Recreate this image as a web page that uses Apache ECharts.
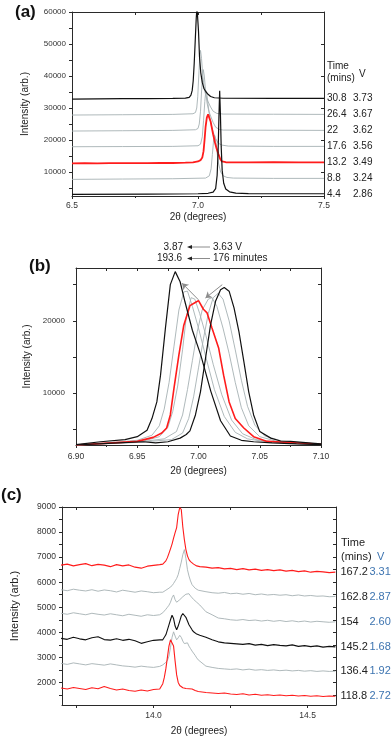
<!DOCTYPE html>
<html>
<head>
<meta charset="utf-8">
<script src="https://cdn.jsdelivr.net/npm/echarts@6/dist/echarts.min.js"></script>
<style>
  html, body { margin: 0; padding: 0; background: #fff; }
  #chart { width: 392px; height: 741px; }
</style>
</head>
<body>
<div id="chart"></div>
<script>
// ---- panel (a): [2theta, intensity] per scan, bottom to top
const aT44  = [[6.5,3000],[6.8,3100],[7.0,3200],[7.04,3350],[7.06,3700],[7.07,4800],[7.076,9000],[7.08,17000],[7.083,27000],[7.086,35400],[7.089,28000],[7.092,18000],[7.096,10500],[7.102,6500],[7.11,4700],[7.125,3800],[7.15,3400],[7.2,3250],[7.5,3200]];
const aT88  = [[6.5,7700],[6.7,7800],[6.9,7900],[7.03,8100],[7.045,8800],[7.052,11000],[7.057,15500],[7.062,20000],[7.066,21500],[7.07,20000],[7.075,16500],[7.082,12500],[7.09,10000],[7.1,8800],[7.115,8300],[7.14,8100],[7.3,8000],[7.5,8000]];
const aT132 = [[6.5,12700],[6.55,12750],[6.6,12700],[6.65,12780],[6.7,12750],[6.75,12800],[6.8,12780],[6.85,12850],[6.9,12820],[6.95,12900],[6.98,13000],[7.0,13300],[7.01,13700],[7.017,14500],[7.022,16500],[7.026,20000],[7.03,24000],[7.035,27000],[7.04,28000],[7.045,27500],[7.05,25800],[7.054,24200],[7.06,21800],[7.067,19300],[7.074,17300],[7.081,15600],[7.088,14100],[7.095,13300],[7.11,13050],[7.2,13000],[7.3,13050],[7.4,13000],[7.5,13000]];
const aT176 = [[6.5,17900],[6.7,17950],[6.9,18000],[7.0,18200],[7.01,18700],[7.017,21000],[7.022,26000],[7.027,32000],[7.031,35500],[7.035,34500],[7.04,31000],[7.046,27500],[7.053,24500],[7.06,22500],[7.07,20500],[7.08,19000],[7.095,18400],[7.12,18100],[7.3,18000],[7.5,18000]];
const aT22  = [[6.5,22800],[6.7,22900],[6.9,23000],[6.99,23200],[7.0,23600],[7.005,25000],[7.01,29000],[7.014,35000],[7.018,40000],[7.021,42000],[7.025,40000],[7.03,35500],[7.036,31500],[7.043,29000],[7.05,27500],[7.06,25500],[7.07,24000],[7.085,23300],[7.1,23100],[7.3,23050],[7.5,23000]];
const aT264 = [[6.5,27800],[6.7,27900],[6.9,28000],[6.98,28200],[6.99,28600],[6.995,30000],[6.999,33500],[7.003,40000],[7.007,46000],[7.010,48000],[7.014,45500],[7.019,40000],[7.025,36000],[7.032,33500],[7.04,32000],[7.05,30300],[7.06,29000],[7.075,28300],[7.1,28100],[7.3,28050],[7.5,28000]];
const aT308 = [[6.5,32800],[6.6,32850],[6.7,32900],[6.8,32950],[6.9,33000],[6.95,33100],[6.965,33300],[6.972,34000],[6.977,35500],[6.981,38500],[6.985,44000],[6.989,51000],[6.993,58000],[6.996,61500],[6.999,61500],[7.002,54000],[7.006,46000],[7.011,41000],[7.017,38000],[7.024,36000],[7.032,35000],[7.041,34200],[7.05,33600],[7.065,33200],[7.1,33050],[7.3,33000],[7.5,33000]];
const aTimes = ['4.4', '8.8', '13.2', '17.6', '22', '26.4', '30.8'];
const aVolts = ['2.86', '3.24', '3.49', '3.56', '3.62', '3.67', '3.73'];

// ---- panel (b)
const bBlackR = [[6.90,2850],[6.93,3100],[6.955,3300],[6.965,3150],[6.975,3300],[6.985,3800],[6.990,4300],[6.993,4800],[6.9975,7000],[7.0016,10200],[7.0057,14800],[7.0098,19400],[7.0139,22700],[7.018,24300],[7.021,24600],[7.025,24100],[7.029,21800],[7.033,18500],[7.037,14400],[7.041,10200],[7.045,7000],[7.050,4700],[7.059,3800],[7.067,3400],[7.075,3350],[7.09,3150],[7.10,3000]];
const bGrayR2 = [[6.90,2850],[6.95,3200],[6.978,3600],[6.987,4500],[6.992,6500],[6.996,9500],[7.000,13500],[7.004,17500],[7.008,21000],[7.012,23200],[7.016,23800],[7.020,23000],[7.025,20000],[7.030,16000],[7.035,11800],[7.040,8200],[7.046,5600],[7.054,4100],[7.068,3400],[7.085,3100],[7.10,2950]];
const bGrayR1 = [[6.90,2850],[6.95,3250],[6.972,3700],[6.982,4700],[6.987,7000],[6.991,10500],[6.995,14500],[6.999,18500],[7.003,21500],[7.008,23000],[7.011,23200],[7.015,22000],[7.020,19000],[7.025,15500],[7.030,11500],[7.035,8000],[7.041,5500],[7.05,4000],[7.065,3300],[7.085,3050],[7.10,2950]];
const bRed    = [[6.90,2850],[6.93,3150],[6.95,3350],[6.963,3900],[6.970,4500],[6.974,5200],[6.977,7000],[6.980,10700],[6.984,15300],[6.988,19400],[6.993,22100],[6.997,22500],[7.000,22800],[7.004,21600],[7.007,21100],[7.011,19000],[7.0165,16200],[7.0205,12500],[7.025,8800],[7.030,6500],[7.037,5200],[7.045,4000],[7.056,3350],[7.075,3200],[7.10,2950]];
const bGrayL2 = [[6.90,2850],[6.93,3100],[6.955,3400],[6.968,4000],[6.975,5300],[6.979,7500],[6.983,11000],[6.987,16000],[6.990,20500],[6.994,23200],[6.997,23000],[7.001,21000],[7.006,18000],[7.012,14000],[7.019,9800],[7.027,6300],[7.036,4400],[7.047,3600],[7.065,3200],[7.085,3000],[7.10,2900]];
const bGrayL1 = [[6.90,2850],[6.93,3200],[6.95,3500],[6.962,4200],[6.968,5500],[6.972,7800],[6.976,11500],[6.980,16500],[6.984,21500],[6.988,24000],[6.991,24100],[6.995,22000],[7.000,19000],[7.006,15000],[7.013,10500],[7.021,6800],[7.03,4600],[7.04,3700],[7.055,3300],[7.075,3100],[7.10,2900]];
const bBlackL = [[6.90,2900],[6.92,3300],[6.94,3600],[6.95,4000],[6.958,4900],[6.962,6500],[6.966,8800],[6.969,12500],[6.973,19000],[6.977,25000],[6.981,26800],[6.985,25400],[6.989,22600],[6.995,18700],[7.002,15200],[7.010,10300],[7.018,6200],[7.026,4100],[7.035,3500],[7.045,3300],[7.06,3150],[7.08,3000],[7.10,2900]];
// arrows inside (b): [from, to]
const bArrows = [[[7.000,22900],[6.9866,25200]], [[7.0194,25000],[7.0057,23150]]];

// ---- panel (c): shared angle grid, one intensity list per scan
const cAngle = [13.70,13.72,13.74,13.76,13.78,13.80,13.82,13.84,13.86,13.88,13.90,13.92,13.94,13.96,13.98,14.00,14.02,
  14.025,14.03,14.035,14.04,14.045,14.05,14.055,14.06,14.065,14.07,14.075,14.08,14.085,14.09,14.095,14.10,14.105,14.11,14.115,14.12,14.125,14.13,14.135,14.14,14.145,14.15,
  14.17,14.19,14.21,14.23,14.25,14.27,14.29,14.31,14.33,14.35,14.37,14.39,14.41,14.43,14.45,14.47,14.49,14.51,14.53,14.55,14.57,14.59];
const c1672 = [6680,6720,6650,6700,6740,6660,6710,6680,6620,6700,6650,6690,6600,6560,6640,6670,6700,
  6680,6720,6760,6850,6980,7150,7330,7520,7760,7980,8180,8700,8980,8900,8200,7700,7300,7050,6900,6820,6760,6720,6680,6650,6640,6620,
  6600,6560,6580,6530,6550,6500,6540,6490,6520,6470,6500,6460,6490,6440,6470,6420,6450,6400,6430,6410,6380,6400];
const c1628 = [5700,5660,5720,5680,5650,5700,5640,5690,5660,5610,5680,5640,5600,5650,5620,5580,5600,
  5620,5600,5640,5680,5720,5760,5800,5860,5950,6050,6150,6300,6550,6800,7100,7300,6950,6500,6250,6050,5900,5830,5760,5700,5680,5640,
  5620,5580,5560,5590,5540,5560,5520,5550,5500,5530,5490,5510,5480,5500,5460,5490,5450,5470,5440,5450,5420,5430];
const c154 = [4760,4720,4780,4740,4700,4760,4720,4690,4740,4700,4660,4720,4680,4640,4700,4670,4700,
  4720,4780,4850,4920,5000,5080,5200,5380,5490,5300,5200,5230,5300,5360,5420,5470,5520,5560,5540,5450,5380,5310,5250,5200,5140,5090,
  4820,4700,4570,4540,4500,4480,4510,4470,4490,4450,4480,4440,4470,4430,4460,4420,4450,4410,4440,4420,4400,4420];
const c1452 = [3760,3720,3800,3740,3700,3780,3820,3710,3690,3740,3680,3720,3660,3560,3620,3680,3700,
  3680,3700,3760,3900,4100,4300,4500,4680,4550,4250,4100,4250,4450,4650,4750,4820,4600,4450,4300,4320,4100,4020,3980,3930,3900,3880,
  3800,3700,3620,3580,3560,3540,3520,3550,3490,3520,3470,3510,3480,3460,3500,3440,3470,3430,3460,3410,3440,3420];
const c1364 = [2760,2720,2780,2740,2700,2750,2720,2690,2740,2700,2660,2640,2610,2650,2620,2600,2640,
  2660,2700,2740,2800,2880,3050,3400,3800,4020,3850,3700,3780,3880,3800,3650,3550,3600,3580,3450,3350,3250,3180,3080,2980,2900,2840,
  2650,2600,2560,2540,2520,2540,2500,2530,2490,2510,2480,2500,2470,2490,2460,2480,2450,2470,2440,2460,2440,2450];
const c1188 = [1780,1740,1800,1760,1720,1790,1750,1840,1760,1700,1740,1680,1650,1700,1660,1720,1740,
  1760,1950,2200,2550,3000,3450,3700,3640,3450,2850,2300,2000,1880,1820,1790,1780,1760,1780,1750,1720,1740,1700,1680,1660,1640,1620,
  1600,1580,1560,1580,1540,1520,1550,1500,1530,1490,1510,1480,1500,1470,1490,1460,1480,1450,1470,1440,1460,1450];
const cTimes = ['118.8', '136.4', '145.2', '154', '162.8', '167.2'];
const cVolts = ['2.72', '1.92', '1.68', '2.60', '2.87', '3.31'];

// tick values
const aYLabels = [10000, 20000, 30000, 40000, 50000, 60000];
const aYTicks = [5000, 10000, 15000, 20000, 25000, 30000, 35000, 40000, 45000, 50000, 55000, 60000];
const bYLabels = [10000, 20000];
const bYTicks = [5000, 10000, 15000, 20000, 25000];
const cYLabels = [2000, 3000, 4000, 5000, 6000, 7000, 8000, 9000];
const cYTicks = [1500, 2000, 2500, 3000, 3500, 4000, 4500, 5000, 5500, 6000, 6500, 7000, 7500, 8000, 8500, 9000];
const cXLabels = [14.0, 14.5];
const cXTicks = [13.75, 14.0, 14.25, 14.5];

const FONT = "'Liberation Sans', Arial, sans-serif";
const BLACK = '#111111';
const GRAY = '#a6b1b3';
const RED = '#ff1c1c';
const BLUE = '#3d74b0';
const AXIS = '#2a2a2a';

const chart = echarts.init(document.getElementById('chart'), null, { renderer: 'canvas' });

const plain = (v) => String(v);

const bottomX = (grid, min, max, extra) => Object.assign({
  gridIndex: grid, type: 'value', position: 'bottom', min, max,
  axisLine: { show: true, onZero: false, lineStyle: { color: AXIS, width: 1 } },
  axisTick: { show: true, length: 3, lineStyle: { color: AXIS } },
  splitLine: { show: false },
  nameLocation: 'middle', nameGap: 20,
  nameTextStyle: { fontFamily: FONT, fontSize: 10, color: '#222' },
  name: '2θ (degrees)',
}, extra);
const topX = (grid, min, max, extra) => Object.assign({
  gridIndex: grid, type: 'value', position: 'top', min, max,
  axisLine: { show: true, onZero: false, lineStyle: { color: AXIS, width: 1 } },
  axisTick: { show: true, inside: true, length: 3, lineStyle: { color: AXIS } },
  axisLabel: { show: false },
  splitLine: { show: false },
}, extra);
const leftY = (grid, min, max, labels, ticks, extra) => Object.assign({
  gridIndex: grid, type: 'value', position: 'left', min, max,
  axisLine: { show: true, onZero: false, lineStyle: { color: AXIS, width: 1 } },
  axisTick: { show: true, length: 3, customValues: ticks, lineStyle: { color: AXIS } },
  axisLabel: { customValues: labels, formatter: plain, fontFamily: FONT, fontSize: 8, color: '#333', margin: 6 },
  splitLine: { show: false },
  name: 'Intensity (arb.)', nameLocation: 'middle', nameGap: 42,
  nameTextStyle: { fontFamily: FONT, fontSize: 10, color: '#222' },
}, extra);
const rightY = (grid, min, max, ticks) => ({
  gridIndex: grid, type: 'value', position: 'right', min, max,
  axisLine: { show: true, onZero: false, lineStyle: { color: AXIS, width: 1 } },
  axisTick: { show: true, inside: true, length: 3, customValues: ticks, lineStyle: { color: AXIS } },
  axisLabel: { show: false },
  splitLine: { show: false },
});

const line = (name, data, color, width, xi, yi, extra) => Object.assign({
  name, type: 'line', data, xAxisIndex: xi, yAxisIndex: yi,
  showSymbol: false, symbol: 'none', clip: true, silent: true,
  lineStyle: { color, width }, itemStyle: { color },
}, extra);

const aEnd = (i) => ({
  endLabel: {
    show: true, distance: 3, color: '#222',
    formatter: '{t|' + aTimes[i] + '}{v|' + aVolts[i] + '}',
    rich: {
      t: { width: 26, fontFamily: FONT, fontSize: 10, color: '#222' },
      v: { fontFamily: FONT, fontSize: 10, color: '#222' },
    },
  },
});
const cEnd = (i) => ({
  endLabel: {
    show: true, distance: 5, color: '#222',
    formatter: '{t|' + cTimes[i] + '}{v|' + cVolts[i] + '}',
    rich: {
      t: { width: 29, fontFamily: FONT, fontSize: 11, color: '#222' },
      v: { fontFamily: FONT, fontSize: 11, color: BLUE },
    },
  },
});
const cPairs = (ys) => cAngle.map((x, i) => [x, ys[i]]);

const series = [
  // (a)
  line('a8.8', aT88, GRAY, 0.9, 0, 0, aEnd(1)),
  line('a17.6', aT176, GRAY, 0.9, 0, 0, aEnd(3)),
  line('a22', aT22, GRAY, 0.9, 0, 0, aEnd(4)),
  line('a26.4', aT264, GRAY, 0.9, 0, 0, aEnd(5)),
  line('a13.2', aT132, RED, 1.8, 0, 0, aEnd(2)),
  line('a30.8', aT308, BLACK, 1.2, 0, 0, aEnd(6)),
  line('a4.4', aT44, BLACK, 1.2, 0, 0, aEnd(0)),
  // (b)
  line('bGrayL1', bGrayL1, GRAY, 0.9, 2, 2),
  line('bGrayL2', bGrayL2, GRAY, 0.9, 2, 2),
  line('bGrayR1', bGrayR1, GRAY, 0.9, 2, 2),
  line('bGrayR2', bGrayR2, GRAY, 0.9, 2, 2),
  line('bRed', bRed, RED, 1.6, 2, 2, {
    markLine: {
      silent: true, symbol: ['none', 'arrow'], symbolSize: 6, animation: false,
      label: { show: false },
      lineStyle: { color: '#8c8c8c', width: 1, type: 'solid' },
      data: bArrows.map(([from, to]) => [{ coord: from }, { coord: to }]),
    },
  }),
  line('bBlackL', bBlackL, BLACK, 1.2, 2, 2),
  line('bBlackR', bBlackR, BLACK, 1.2, 2, 2),
  // (c)
  line('c167.2', cPairs(c1672), RED, 1.1, 4, 4, cEnd(5)),
  line('c162.8', cPairs(c1628), GRAY, 0.9, 4, 4, cEnd(4)),
  line('c154', cPairs(c154), GRAY, 0.9, 4, 4, cEnd(3)),
  line('c136.4', cPairs(c1364), GRAY, 0.9, 4, 4, cEnd(1)),
  line('c145.2', cPairs(c1452), BLACK, 1.1, 4, 4, cEnd(2)),
  line('c118.8', cPairs(c1188), RED, 1.1, 4, 4, cEnd(0)),
];

const txt = (text, x, y, opts) => ({
  type: 'text', x, y, silent: true,
  style: Object.assign({ text, font: '10px ' + FONT, fill: '#222', align: 'left', verticalAlign: 'middle' }, opts),
});

const option = {
  animation: false,
  backgroundColor: '#fff',
  grid: [
    { left: 72, top: 12, width: 252, height: 184 },
    { left: 76, top: 268, width: 245, height: 177 },
    { left: 62, top: 507, width: 274, height: 198 },
  ],
  xAxis: [
    bottomX(0, 6.5, 7.5, {
      interval: 0.5, nameGap: 16,
      minorTick: { show: true, splitNumber: 2, length: 2, lineStyle: { color: AXIS } },
      axisLabel: { formatter: (v) => v.toFixed(1), fontFamily: FONT, fontSize: 8.5, color: '#333', margin: 5, showMinLabel: true, showMaxLabel: true },
    }),
    topX(0, 6.5, 7.5, { interval: 0.25 }),
    bottomX(1, 6.9, 7.1, {
      interval: 0.05, nameGap: 21,
      minorTick: { show: true, splitNumber: 2, length: 2, lineStyle: { color: AXIS } },
      axisLabel: { formatter: (v) => v.toFixed(2), fontFamily: FONT, fontSize: 8.5, color: '#333', margin: 7, showMinLabel: true, showMaxLabel: true },
    }),
    topX(1, 6.9, 7.1, { interval: 0.025 }),
    bottomX(2, 13.703, 14.592, {
      nameGap: 21,
      axisTick: { show: true, length: 3, customValues: cXTicks, lineStyle: { color: AXIS } },
      axisLabel: { customValues: cXLabels, formatter: (v) => v.toFixed(1), fontFamily: FONT, fontSize: 8.5, color: '#333', margin: 6 },
    }),
    topX(2, 13.703, 14.592, {
      axisTick: { show: true, inside: true, length: 3, customValues: cXTicks, lineStyle: { color: AXIS } },
    }),
  ],
  yAxis: [
    leftY(0, 2500, 60000, aYLabels, aYTicks),
    rightY(0, 2500, 60000, aYLabels),
    leftY(1, 2850, 27300, bYLabels, bYTicks, {
      nameGap: 43,
      axisLabel: { customValues: bYLabels, formatter: plain, fontFamily: FONT, fontSize: 8, color: '#333', margin: 11 },
    }),
    rightY(1, 2850, 27300, bYTicks),
    leftY(2, 1100, 9000, cYLabels, cYTicks, {
      nameGap: 42,
      nameTextStyle: { fontFamily: FONT, fontSize: 11, color: '#222' },
      axisLabel: { customValues: cYLabels, formatter: plain, fontFamily: FONT, fontSize: 8.5, color: '#333', margin: 6 },
    }),
    rightY(2, 1100, 9000, cYTicks),
  ],
  series,
  graphic: [
    // panel letters
    txt('(a)', 15, 12, { font: 'bold 17px ' + FONT, fill: '#111' }),
    txt('(b)', 29, 266, { font: 'bold 17px ' + FONT, fill: '#111' }),
    txt('(c)', 1, 495, { font: 'bold 17px ' + FONT, fill: '#111' }),
    // (a) legend header
    txt('Time', 327, 66),
    txt('(mins)', 327, 78),
    txt('V', 359, 74),
    // (b) header with arrows
    txt('3.87', 183, 247, { align: 'right' }),
    txt('193.6', 182, 258.5, { align: 'right' }),
    txt('3.63 V', 213, 247),
    txt('176 minutes', 213, 258.5),
    { type: 'line', silent: true, shape: { x1: 210, y1: 247, x2: 190, y2: 247 }, style: { stroke: '#8c8c8c', lineWidth: 1 } },
    { type: 'polygon', silent: true, shape: { points: [[187, 247], [192, 245], [192, 249]] }, style: { fill: '#222' } },
    { type: 'line', silent: true, shape: { x1: 210, y1: 258.5, x2: 190, y2: 258.5 }, style: { stroke: '#8c8c8c', lineWidth: 1 } },
    { type: 'polygon', silent: true, shape: { points: [[187, 258.5], [192, 256.5], [192, 260.5]] }, style: { fill: '#222' } },
    // (c) legend header
    txt('Time', 341, 543, { font: '11px ' + FONT }),
    txt('(mins)', 341, 557, { font: '11px ' + FONT }),
    txt('V', 377, 557, { font: '11px ' + FONT, fill: BLUE }),
  ],
};

chart.setOption(option);
</script>
</body>
</html>
